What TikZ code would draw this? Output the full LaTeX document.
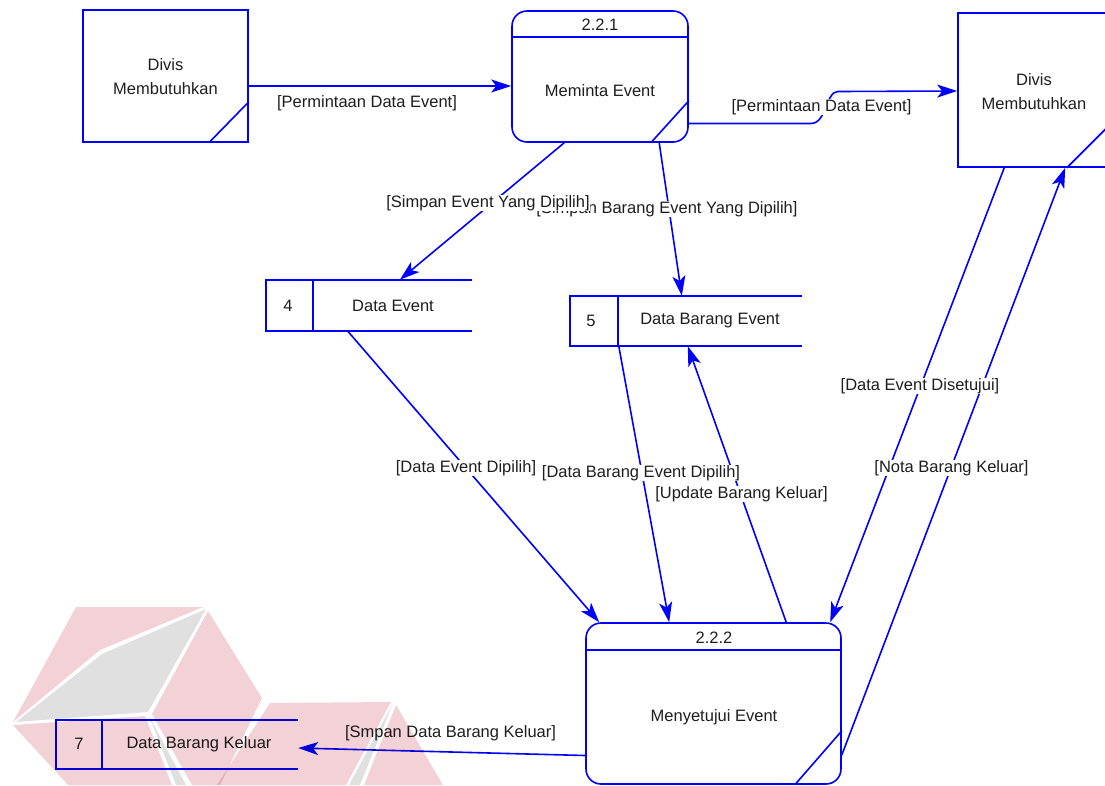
\documentclass[tikz,border=0pt]{standalone}
\usepackage{fontspec}
\setmainfont{Liberation Sans}
\usetikzlibrary{arrows.meta,calc}
\definecolor{dfdblue}{RGB}{0,0,255}
\definecolor{inkgray}{RGB}{30,30,30}
\definecolor{wmpink}{RGB}{242,210,215}
\definecolor{wmgray}{RGB}{224,224,224}

\tikzset{
  every node/.style={font=\fontsize{16.5}{24}\selectfont, text=inkgray},
  outline/.style={draw=dfdblue, line width=1.6pt},
  entity/.style={outline, rectangle, inner sep=0pt},
  proc/.style={outline, rectangle, rounded corners=15pt, inner sep=0pt},
  store/.style={rectangle, inner sep=0pt},
  flow/.style={draw=dfdblue, line width=1.6pt, -{Stealth[length=20pt,width=13pt,inset=5pt]}},
  lbl/.style={fill=white, inner sep=0.5pt},
}

\begin{document}
\begin{tikzpicture}[x=1pt,y=-1pt]
\useasboundingbox (0,0) rectangle (1105,785);
\clip (0,0) rectangle (1105,785);

% external entities
\node[entity, minimum width=165pt, minimum height=132pt] (e1) at (165.5,76) {};
\draw[outline] ([xshift=-40pt]e1.south east) -- ([yshift=41pt]e1.south east);
\node[align=center] (e1t) at (165.5,77) {Divis\\Membutuhkan};

\node[entity, minimum width=152pt, minimum height=154pt] (e2) at (1034,90) {};
\draw[outline] ([xshift=-44pt]e2.south east) -- ([yshift=44pt]e2.south east);
\node[align=center] (e2t) at (1034,92) {Divis\\Membutuhkan};

% processes
\node[proc, minimum width=176pt, minimum height=131pt] (p1) at (600,76.5) {};
\draw[outline] ([yshift=-27pt]p1.north west) -- ([yshift=-27pt]p1.north east);
\draw[outline] ([xshift=-38pt]p1.south east) -- ([yshift=42pt]p1.south east);
\node (p1n) at (600,25) {2.2.1};
\node (p1t) at (600,91) {Meminta Event};

\node[proc, minimum width=255pt, minimum height=161pt] (p2) at (713.5,703.5) {};
\draw[outline] ([yshift=-28pt]p2.north west) -- ([yshift=-28pt]p2.north east);
\draw[outline] ([xshift=-47pt]p2.south east) -- ([yshift=54pt]p2.south east);
\node (p2n) at (714,638) {2.2.2};
\node (p2t) at (714,717) {Menyetujui Event};

% data stores
\node[store, minimum width=206pt, minimum height=51pt] (s4) at (369,305.5) {};
\draw[outline] (s4.north east) -- (s4.north west) -- (s4.south west) -- (s4.south east);
\draw[outline] ([xshift=47pt]s4.north west) -- ([xshift=47pt]s4.south west);
\node (s4n) at (288,306) {4};
\node (s4t) at (393,306) {Data Event};

\node[store, minimum width=232pt, minimum height=50pt] (s5) at (686,321) {};
\draw[outline] (s5.north east) -- (s5.north west) -- (s5.south west) -- (s5.south east);
\draw[outline] ([xshift=48pt]s5.north west) -- ([xshift=48pt]s5.south west);
\node (s5n) at (591,321) {5};
\node (s5t) at (710,321) {Data Barang Event};

\node[store, minimum width=242pt, minimum height=49pt] (s7) at (177,744.5) {};
\draw[outline] (s7.north east) -- (s7.north west) -- (s7.south west) -- (s7.south east);
\draw[outline] ([xshift=46pt]s7.north west) -- ([xshift=46pt]s7.south west);
\node (s7n) at (79,744) {7};
\node (s7t) at (199,744) {Data Barang Keluar};

% data flows
\draw[flow] ([yshift=-10pt]e1.east) -- ([yshift=-10pt]e1.east -| p1.west);
\draw[flow] ([yshift=-47pt]p1.east) -- ++(122,0)
  .. controls +(16,0) and +(-12,0) .. ++(27,-32) -- ([yshift=-1pt]e2.west);
\draw[flow] ([xshift=53pt]p1.south west) -- ([xshift=134pt]s4.north west);
\draw[flow] ([xshift=148pt]p1.south west) -- ([xshift=112pt]s5.north west);
\draw[flow] ([xshift=82pt]s4.south west) -- ([xshift=14pt]p2.north west);
\draw[flow] ([xshift=49pt]s5.south west) -- ([xshift=84pt]p2.north west);
\draw[flow] ([xshift=201pt]p2.north west) -- ([xshift=118pt]s5.south west);
\draw[flow] ([xshift=47pt]e2.south west) -- ([xshift=245pt]p2.north west);
\draw[flow] ([yshift=-51.5pt]p2.east) -- ([xshift=108pt]e2.south west);
\draw[flow] ([yshift=-52pt]p2.west) -- ([yshift=-3.5pt]s7.east);

% flow labels
\node[lbl] (l1) at (367,103) {[Permintaan Data Event]};
\node[lbl] (l2) at (821.5,107) {[Permintaan Data Event]};
\node[lbl] (l4) at (667,209) {[Simpan Barang Event Yang Dipilih]};
\node[lbl] (l3) at (488,203) {[Simpan Event Yang Dipilih]};
\node[lbl] (l5) at (466,468) {[Data Event Dipilih]};
\node[lbl] (l6) at (641,473) {[Data Barang Event Dipilih]};
\node[lbl] (l7) at (741.5,494) {[Update Barang Keluar]};
\node[lbl] (l8) at (920,386) {[Data Event Disetujui]};
\node[lbl] (l9) at (951.5,468) {[Nota Barang Keluar]};
\node[lbl] (l10) at (450.5,733) {[Smpan Data Barang Keluar]};

% faint logo in the lower left corner
\begin{scope}[blend mode=multiply]
  \fill[wmpink] (13,722) -- (76,607) -- (203,607) -- (100,650) -- cycle;
  \fill[wmgray] (16,722) -- (102,654) -- (206,609) -- (148,712) -- cycle;
  \fill[wmpink] (208,611) -- (262,698) -- (220,785) -- (192,785) -- (152,714) -- cycle;
  \fill[wmgray] (149,716) -- (176,785) -- (186,785) -- cycle;
  \fill[wmpink] (13,725) -- (145,716) -- (172,785) -- (68,785) -- cycle;
  \fill[wmpink] (270,703) -- (391,702) -- (346,785) -- (217,785) -- cycle;
  \fill[wmgray] (393,703) -- (349,785) -- (360,785) -- cycle;
  \fill[wmpink] (396,705) -- (443,785) -- (364,785) -- cycle;
\end{scope}
\end{tikzpicture}
\end{document}
